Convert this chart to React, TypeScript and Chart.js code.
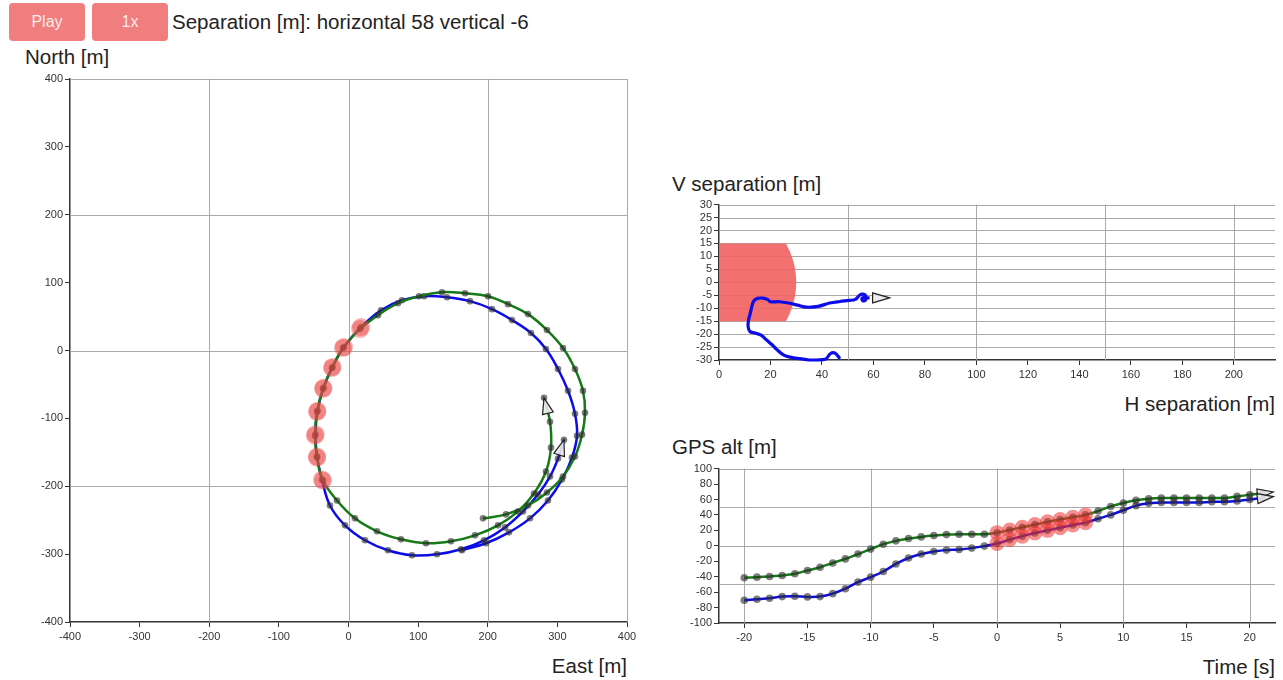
import React, { useEffect, useRef } from 'react';
import { Chart, registerables } from 'chart.js';

Chart.register(...registerables);

const FONT = '"Liberation Sans", Arial, Helvetica, sans-serif';

// ---- time samples [s]
const timeS = [-20, -19, -18, -17, -16, -15, -14, -13, -12, -11, -10, -9, -8, -7, -6, -5, -4, -3, -2, -1,
  0, 1, 2, 3, 4, 5, 6, 7, 8, 9, 10, 11, 12, 13, 14, 15, 16, 17, 18, 19, 20, 21];

// ---- GPS altitude [m]
const greenAlt = [-41.4, -40.6, -39.7, -38.5, -36.3, -32, -27.8, -22.2, -17, -10.7, -4.3, 2.1, 6.4, 9.4, 11.5, 13.2, 14.5, 15, 15, 15,
  17, 20.5, 24, 27.5, 31, 34, 37, 40, 45, 51, 55.5, 59, 61, 62, 62, 62, 62, 62, 62, 64, 66, 68];
const blueAlt = [-70.5, -69.2, -67.9, -65.8, -65.4, -66.2, -65.8, -62, -55.6, -47, -40.6, -33.3, -23.5, -15.8, -10.7, -7.3, -5.6, -4.7, -3, -0.4,
  3, 8, 12.5, 16.5, 20, 23.5, 27, 30, 35, 40, 46, 52, 55, 56, 56, 56, 56, 57, 57, 58, 60, 62];

// ---- times flagged as too close
const alertTimes = [0, 1, 2, 3, 4, 5, 6, 7];

// ---- map tracks [m]
const greenEast = [193.2, 226.2, 257.8, 285.1, 308.1, 325.3, 335.4, 339.7, 336.8, 325.3, 308.1, 285.1, 257.8, 229.1, 200.4, 167.4, 134.3, 101.3, 71.1, 42.4,
  16.5, -7.9, -23.7, -36.6, -45.2, -48.1, -45.2, -36.6, -16.5, 9.3, 40.9, 75.4, 111.3, 147.2, 181.7, 214.7, 243.4, 266.4, 283.6, 290.8, 289.4, 280.8];
const greenNorth = [-247.3, -241.5, -228.3, -209.2, -185.7, -156.3, -124.0, -91.7, -59.4, -27.2, 3.7, 30.1, 53.6, 68.3, 80.0, 84.4, 85.9, 80.0, 69.7, 52.1,
  31.6, 3.7, -25.7, -56.5, -90.3, -125.5, -157.8, -191.6, -220.9, -247.3, -266.4, -278.2, -284.0, -281.1, -272.3, -257.6, -237.1, -210.6, -178.3, -143.1, -104.9, -69.7];
const blueEast = [163.0, 197.5, 230.5, 260.7, 286.5, 306.6, 321.0, 328.2, 325.3, 315.3, 300.9, 283.6, 262.1, 234.8, 206.1, 174.5, 141.5, 108.5, 76.8, 46.7,
  18.0, -6.5, -23.0, -35.9, -44.5, -47.4, -45.2, -38.1, -26.6, -5.0, 23.7, 56.7, 91.2, 127.1, 161.6, 194.6, 224.8, 250.6, 272.2, 289.4, 300.9, 309.5];
const blueNorth = [-294.3, -284.0, -267.9, -247.3, -220.9, -190.1, -157.8, -125.5, -93.2, -59.4, -27.2, 2.2, 25.7, 44.8, 60.9, 72.7, 78.5, 80.0, 74.1, 59.4,
  34.5, 5.1, -24.2, -55.0, -88.8, -123.3, -156.3, -190.1, -228.3, -257.6, -279.6, -294.3, -301.7, -300.2, -292.8, -279.6, -260.6, -237.1, -212.1, -185.7, -159.3, -131.4];

// ---- separation [m]
const hSep = [47, 45, 43.2, 41.5, 38, 35, 31.5, 28, 25, 22.5, 20.5, 18.5, 16.5, 14, 12, 11.3, 11.5, 12.2, 12.8, 13.5,
  15, 17, 18.8, 20, 23.5, 27, 30.5, 34, 38.5, 43, 47, 50.5, 53, 54.6, 56, 57, 57, 56, 55.5, 56.5, 57.5, 58.5];
const vSep = [-29.5, -27.3, -27.6, -29.6, -30, -30, -29.5, -29, -28, -26, -24, -22.3, -20.5, -19.6, -19, -17, -14.5, -11.8, -9.2, -7.2,
  -6.2, -6.1, -6.6, -7.5, -7.5, -8, -8.8, -9.6, -9.3, -8, -7.4, -7, -6.6, -5, -4.6, -5.2, -6.8, -7.2, -6.3, -5.8, -6, -6];

// ---- warning zone outline (H, V)
const zoneH = [0, 26, 27.5, 28.6, 29.4, 29.85, 30, 29.85, 29.4, 28.6, 27.5, 26, 0];
const zoneV = [15, 15, 12, 9, 6, 3, 0, -3, -6, -9, -12, -15, -15];

// ---- ticks & grid
const mapTicks = [-400, -300, -200, -100, 0, 100, 200, 300, 400];
const mapGrid = [-200, 0, 200, 400];
const hSepTicks = [0, 20, 40, 60, 80, 100, 120, 140, 160, 180, 200];
const hSepGrid = [50, 100, 150, 200];
const vSepTicks = [-30, -25, -20, -15, -10, -5, 0, 5, 10, 15, 20, 25, 30];
const vSepGrid = [-25, -20, -15, -10, -5, 0, 5, 10, 15, 20, 25, 30];
const timeTicks = [-20, -15, -10, -5, 0, 5, 10, 15, 20];
const timeGrid = [-20, -10, 0, 10, 20];
const altTicks = [-100, -80, -60, -40, -20, 0, 20, 40, 60, 80, 100];
const altGrid = [-50, 0, 50, 100];

const BLUE = 'rgb(12,12,232)';
const GREEN = 'rgb(22,122,22)';
const DOT = 'rgba(45,45,45,0.62)';

function makeGridPlugin(xs: number[], ys: number[]) {
  return {
    id: 'customGrid',
    beforeDatasetsDraw(chart: any) {
      const { ctx, chartArea, scales } = chart;
      ctx.save();
      ctx.strokeStyle = 'rgba(160,160,160,0.9)';
      ctx.lineWidth = 1;
      xs.forEach((v) => {
        const px = Math.round(scales.x.getPixelForValue(v)) + 0.5;
        ctx.beginPath();
        ctx.moveTo(px, chartArea.top);
        ctx.lineTo(px, chartArea.bottom);
        ctx.stroke();
      });
      ys.forEach((v) => {
        const py = Math.round(scales.y.getPixelForValue(v)) + 0.5;
        ctx.beginPath();
        ctx.moveTo(chartArea.left, py);
        ctx.lineTo(chartArea.right, py);
        ctx.stroke();
      });
      ctx.restore();
    },
  };
}

const arrowPlugin = {
  id: 'arrows',
  afterDatasetsDraw(chart: any) {
    const ctx = chart.ctx;
    chart.data.datasets.forEach((ds: any, i: number) => {
      if (!ds.arrow) return;
      const pts = chart.getDatasetMeta(i).data;
      const n = pts.length;
      if (n < 2) return;
      const a = pts[n - 2];
      const b = pts[n - 1];
      const dx = b.x - a.x;
      const dy = b.y - a.y;
      const len = Math.hypot(dx, dy) || 1;
      const ux = dx / len;
      const uy = dy / len;
      const { ahead, length, half } = ds.arrow;
      const tx = b.x + ux * ahead;
      const ty = b.y + uy * ahead;
      const bx = tx - ux * length;
      const by = ty - uy * length;
      ctx.save();
      ctx.beginPath();
      ctx.moveTo(tx, ty);
      ctx.lineTo(bx - uy * half, by + ux * half);
      ctx.lineTo(bx + uy * half, by - ux * half);
      ctx.closePath();
      ctx.fillStyle = 'rgba(235,235,235,0.9)';
      ctx.fill();
      ctx.strokeStyle = '#222';
      ctx.lineWidth = 1.2;
      ctx.stroke();
      ctx.restore();
    });
  },
};

function axis(min: number, max: number, ticks: number[], side: 'x' | 'y', size: number) {
  return {
    type: 'linear',
    min,
    max,
    afterBuildTicks: (s: any) => {
      s.ticks = ticks.map((v) => ({ value: v }));
    },
    afterFit: (s: any) => {
      if (side === 'x') s.height = size;
      else s.width = size;
    },
    ticks: {
      font: { size: 11, family: FONT },
      color: '#333',
      padding: side === 'x' ? 3 : 2,
      maxRotation: 0,
      minRotation: 0,
      autoSkip: false,
    },
    grid: { drawOnChartArea: false, drawTicks: true, tickLength: 5, color: '#333', tickColor: '#333', tickWidth: 1 },
    border: { display: true, color: '#333', width: 1.5 },
  };
}

function pathOf(xs: number[], ys: number[]) {
  return xs.map((x, i) => ({ x, y: ys[i] }));
}

function buildMap() {
  const idx = alertTimes.map((t) => timeS.indexOf(t));
  const alerts = idx.flatMap((i) => [
    { x: greenEast[i], y: greenNorth[i] },
    { x: blueEast[i], y: blueNorth[i] },
  ]);
  return {
    type: 'scatter',
    data: {
      datasets: [
        { data: alerts, showLine: false, pointRadius: 9, pointBackgroundColor: 'rgba(236,70,70,0.42)', pointBorderWidth: 0, order: 0 },
        {
          data: pathOf(greenEast, greenNorth), showLine: true, borderColor: GREEN, borderWidth: 2.5, tension: 0.4,
          pointRadius: 3.3, pointBackgroundColor: DOT, pointBorderWidth: 0, order: 1,
          arrow: { ahead: 0, length: 16, half: 5.5 },
        },
        {
          data: pathOf(blueEast, blueNorth), showLine: true, borderColor: BLUE, borderWidth: 2.5, tension: 0.4,
          pointRadius: 3.3, pointBackgroundColor: DOT, pointBorderWidth: 0, order: 2,
          arrow: { ahead: 0, length: 16, half: 5.5 },
        },
      ],
    },
    options: {
      responsive: false,
      animation: false,
      events: [],
      layout: { padding: { left: 0, right: 13, top: 7, bottom: 0 } },
      plugins: { legend: { display: false }, tooltip: { enabled: false } },
      scales: { x: axis(-400, 400, mapTicks, 'x', 28), y: axis(-400, 400, mapTicks, 'y', 45) },
    },
    plugins: [makeGridPlugin(mapGrid, mapGrid), arrowPlugin],
  };
}

function buildSep() {
  return {
    type: 'scatter',
    data: {
      datasets: [
        {
          data: pathOf(hSep, vSep), showLine: true, borderColor: BLUE, borderWidth: 3.2, tension: 0.35,
          pointRadius: 0, clip: false, order: 0,
          arrow: { ahead: 20, length: 17, half: 5 },
        },
        {
          data: pathOf(zoneH, zoneV), showLine: true, fill: 'shape', backgroundColor: 'rgba(242,100,100,0.92)',
          borderWidth: 0, borderColor: 'rgba(0,0,0,0)', pointRadius: 0, tension: 0, order: 5,
        },
      ],
    },
    options: {
      responsive: false,
      animation: false,
      events: [],
      layout: { padding: { left: 0, right: 8, top: 7, bottom: 0 } },
      plugins: { legend: { display: false }, tooltip: { enabled: false } },
      scales: { x: axis(0, 216, hSepTicks, 'x', 26), y: axis(-30, 30, vSepTicks, 'y', 39) },
    },
    plugins: [makeGridPlugin(hSepGrid, vSepGrid), arrowPlugin],
  };
}

function buildAlt() {
  const idx = alertTimes.map((t) => timeS.indexOf(t));
  const alerts = idx.flatMap((i) => [
    { x: timeS[i], y: greenAlt[i] },
    { x: timeS[i], y: blueAlt[i] },
  ]);
  return {
    type: 'scatter',
    data: {
      datasets: [
        { data: alerts, showLine: false, pointRadius: 7.5, pointBackgroundColor: 'rgba(240,50,50,0.55)', pointBorderWidth: 0, order: 0 },
        {
          data: pathOf(timeS, greenAlt), showLine: true, borderColor: GREEN, borderWidth: 2.5, tension: 0.3,
          pointRadius: 3.8, pointBackgroundColor: DOT, pointBorderWidth: 0, order: 1,
          arrow: { ahead: 11, length: 16, half: 5 },
        },
        {
          data: pathOf(timeS, blueAlt), showLine: true, borderColor: BLUE, borderWidth: 2.5, tension: 0.3,
          pointRadius: 3.8, pointBackgroundColor: DOT, pointBorderWidth: 0, order: 2,
          arrow: { ahead: 11, length: 16, half: 5 },
        },
      ],
    },
    options: {
      responsive: false,
      animation: false,
      events: [],
      layout: { padding: { left: 0, right: 8, top: 7, bottom: 0 } },
      plugins: { legend: { display: false }, tooltip: { enabled: false } },
      scales: { x: axis(-22, 22, timeTicks, 'x', 27), y: axis(-100, 100, altTicks, 'y', 39) },
    },
    plugins: [makeGridPlugin(timeGrid, altGrid), arrowPlugin],
  };
}

function ChartBox(props: { left: number; top: number; width: number; height: number; build: () => any }) {
  const ref = useRef<HTMLCanvasElement>(null);
  useEffect(() => {
    const chart = new Chart(ref.current as HTMLCanvasElement, props.build());
    return () => chart.destroy();
  }, []);
  return (
    <canvas
      ref={ref}
      width={props.width}
      height={props.height}
      style={{ position: 'absolute', left: props.left, top: props.top, width: props.width, height: props.height }}
    />
  );
}

const labelStyle: React.CSSProperties = {
  position: 'absolute',
  font: `20.5px ${FONT}`,
  lineHeight: '22px',
  color: '#222',
  whiteSpace: 'nowrap',
};

const btnStyle: React.CSSProperties = {
  position: 'absolute',
  top: 3,
  width: 76,
  height: 38,
  background: 'rgb(240,126,126)',
  color: 'rgba(255,255,255,0.88)',
  borderRadius: 4,
  font: `16px ${FONT}`,
  lineHeight: '38px',
  textAlign: 'center',
};

export default function App() {
  return (
    <div style={{ position: 'absolute', left: 0, top: 0, width: 1283, height: 680, overflow: 'hidden', background: '#fff' }}>
      <div style={{ ...btnStyle, left: 9 }}>Play</div>
      <div style={{ ...btnStyle, left: 92 }}>1x</div>
      <div style={{ ...labelStyle, left: 172, top: 11 }}>Separation [m]: horizontal 58 vertical -6</div>

      <div style={{ ...labelStyle, left: 25, top: 46 }}>North [m]</div>
      <ChartBox left={25} top={70} width={615} height={580} build={buildMap} />
      <div style={{ ...labelStyle, right: 1283 - 627, top: 655 }}>East [m]</div>

      <div style={{ ...labelStyle, left: 672, top: 173 }}>V separation [m]</div>
      <ChartBox left={680} top={196} width={603} height={190} build={buildSep} />
      <div style={{ ...labelStyle, right: 8, top: 393 }}>H separation [m]</div>

      <div style={{ ...labelStyle, left: 672, top: 436 }}>GPS alt [m]</div>
      <ChartBox left={680} top={460} width={603} height={190} build={buildAlt} />
      <div style={{ ...labelStyle, right: 8, top: 656 }}>Time [s]</div>
    </div>
  );
}
